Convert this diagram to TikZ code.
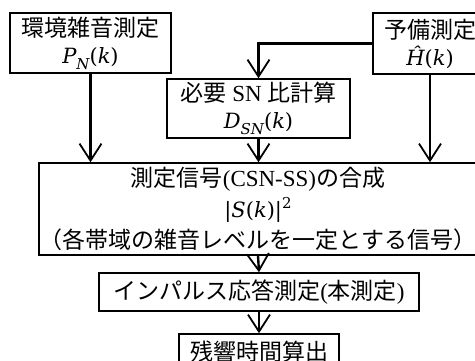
\documentclass[tikz,border=0pt]{standalone}
\usepackage{fontspec}
\setmainfont{Liberation Serif}
\newfontfamily\cjk{Noto Sans CJK JP}
\newfontfamily\mfont{DejaVu Serif}
\usetikzlibrary{arrows.meta}
\newcommand{\mi}[1]{{\mfont\itshape #1}}
\newcommand{\mr}[1]{{\mfont #1}}
\newcommand{\msub}[1]{\raisebox{-6pt}{\fontsize{15}{15}\selectfont\mfont\itshape #1}}
\newcommand{\msup}[1]{\raisebox{9pt}{\fontsize{15}{15}\selectfont\mfont #1}}
\begin{document}
\begin{tikzpicture}[x=1pt,y=1pt,
  box/.style={draw,line width=1.5pt,inner sep=0pt,align=center,font=\fontsize{23}{27}\selectfont},
  mth/.style={font=\fontsize{21}{27}\selectfont},
  conn/.style={line width=2.4pt,-{Straight Barb[length=17pt,width=22pt,line width=1.8pt]}}]
\clip (0,0) rectangle (475,-360);
\node[box,minimum width=161pt,minimum height=60pt] (noise) at (90.5,-43) {{\cjk 環境雑音測定}\\{\fontsize{21}{27}\selectfont\mi{P}\msub{N}\mr{(}\mi{k}\mr{)}}};
\node[box,minimum width=114pt,minimum height=61pt] (pre) at (430,-43.5) {{\cjk 予備測定}\\{\fontsize{21}{27}\selectfont\mi{Ĥ}\mr{(}\mi{k}\mr{)}}};
\node[box,minimum width=183pt,minimum height=59pt] (snr) at (258.5,-108.5) {{\cjk 必要} SN {\cjk 比計算}\\{\fontsize{21}{27}\selectfont\mi{D}\msub{SN}\mr{(}\mi{k}\mr{)}}};
\node[box,minimum width=438pt,minimum height=92pt] (big) at (258,-209) {{\cjk 測定信号}(CSN-SS){\cjk の合成}\\[4pt]{\fontsize{21}{27}\selectfont\mr{|}\mi{S}\mr{(}\mi{k}\mr{)|}\msup{2}}\\[4pt]{\cjk （各帯域の雑音レベルを一定とする信号）}};
\node[box,minimum width=320pt,minimum height=38pt] (imp) at (259,-292) {{\cjk インパルス応答測定}({\cjk 本測定})};
\node[box,minimum width=160pt,minimum height=36pt] (rt) at (259,-352) {{\cjk 残響時間算出}};
\draw[conn] (noise.south) -- (noise.south |- big.north);
\draw[conn] (pre.south) -- (pre.south |- big.north);
\draw[conn] (pre.west) -| (snr.north);
\draw[conn] (snr.south) -- (snr.south |- big.north);
\draw[conn] (big.south) -- (imp.north);
\draw[conn] (imp.south) -- (rt.north);
\end{tikzpicture}
\end{document}
